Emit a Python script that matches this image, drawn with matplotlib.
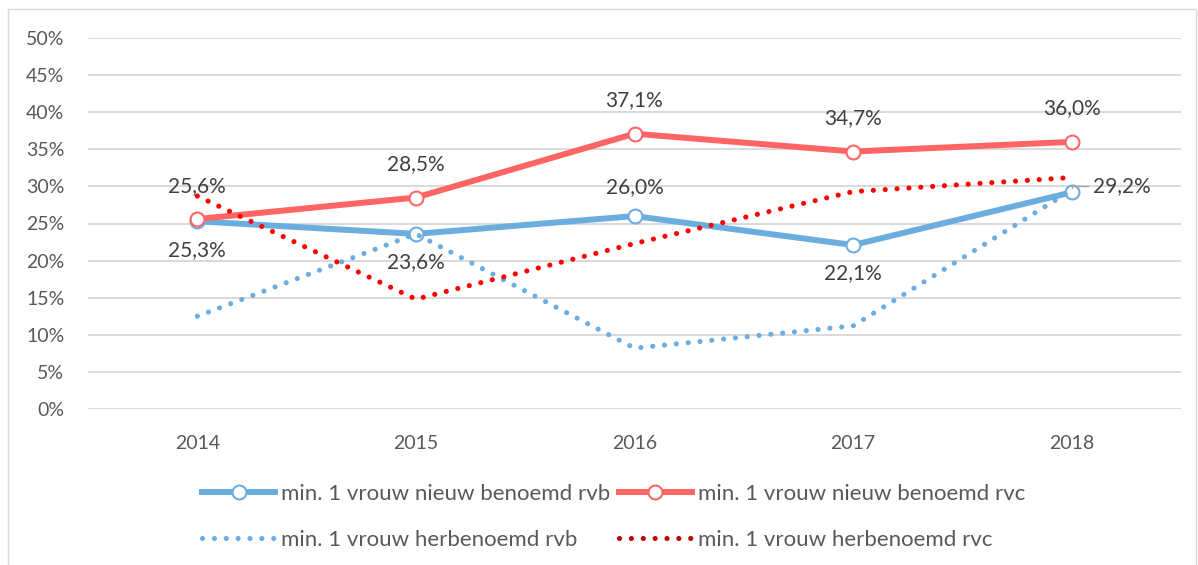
import matplotlib.pyplot as plt
from matplotlib.lines import Line2D
from matplotlib.patches import Rectangle

plt.rcParams['font.family'] = ['Lato', 'DejaVu Sans']

# data
jaren = ['2014', '2015', '2016', '2017', '2018']
nieuw_rvb = [25.3, 23.6, 26.0, 22.1, 29.2]
nieuw_rvc = [25.6, 28.5, 37.1, 34.7, 36.0]
herb_rvb = [12.5, 23.6, 8.2, 11.2, 29.5]
herb_rvc = [28.7, 14.8, 22.3, 29.3, 31.2]
labels = ['min. 1 vrouw nieuw benoemd rvb', 'min. 1 vrouw nieuw benoemd rvc',
          'min. 1 vrouw herbenoemd rvb', 'min. 1 vrouw herbenoemd rvc']

blauw = '#6CADDF'
rood = '#FF6565'
rood_dot = '#FF0000'
grijs = '#595959'

fig = plt.figure(figsize=(11.98, 5.65), dpi=100)
ax = fig.add_axes([88/1198, 1-409/565, (1181-88)/1198, (409-38)/565])

x = range(len(jaren))
ax.plot(x, nieuw_rvb, color=blauw, lw=4.3, marker='o', ms=10, mfc='white',
        mec=blauw, mew=1.5, zorder=3)
ax.plot(x, nieuw_rvc, color=rood, lw=4.3, marker='o', ms=10, mfc='white',
        mec=rood, mew=1.5, zorder=3)
ax.plot(x, herb_rvb, color=blauw, lw=3.7, linestyle=(0, (0.01, 2.3)),
        dash_capstyle='round', zorder=4)
ax.plot(x, herb_rvc, color=rood_dot, lw=3.7, linestyle=(0, (0.01, 2.3)),
        dash_capstyle='round', zorder=4)

# data labels
lbl_kleur = '#404040'
for i, v in enumerate(nieuw_rvc):
    ax.annotate(f'{v:.1f}%'.replace('.', ','), (i, v), xytext=(0, 24),
                textcoords='offset points', ha='center', va='center',
                fontsize=15, color=lbl_kleur, zorder=5)
pos = ['onder', 'onder', 'boven', 'onder', 'rechts']
for i, v in enumerate(nieuw_rvb):
    tekst = f'{v:.1f}%'.replace('.', ',')
    if pos[i] == 'boven':
        ax.annotate(tekst, (i, v), xytext=(0, 21), textcoords='offset points',
                    ha='center', va='center', fontsize=15, color=lbl_kleur)
    elif pos[i] == 'onder':
        ax.annotate(tekst, (i, v), xytext=(0, -20.5), textcoords='offset points',
                    ha='center', va='center', fontsize=15, color=lbl_kleur)
    else:
        ax.annotate(tekst, (i, v), xytext=(15, 4.5), textcoords='offset points',
                    ha='left', va='center', fontsize=15, color=lbl_kleur,
                    arrowprops=dict(arrowstyle='-', color='#A6A6A6', lw=1,
                                    shrinkA=1, shrinkB=3,
                                    connectionstyle='angle,angleA=0,angleB=90,rad=0'))

ax.set_xlim(-0.5, 4.5)
ax.set_ylim(0, 50)
ax.set_yticks(range(0, 51, 5))
ax.set_yticklabels([f'{t}%' for t in range(0, 51, 5)])
ax.set_xticks(list(x))
ax.set_xticklabels(jaren)
ax.tick_params(axis='y', length=0, pad=17, labelsize=14, labelcolor=grijs)
ax.tick_params(axis='x', length=0, pad=19, labelsize=14, labelcolor=grijs)
ax.grid(axis='y', color='#D9D9D9', lw=1.4)
ax.set_axisbelow(True)
for s in ax.spines.values():
    s.set_visible(False)

# legend
handles = [
    Line2D([], [], color=blauw, lw=4.3, marker='o', ms=10, mfc='white', mec=blauw, mew=1.5),
    Line2D([], [], color=blauw, lw=3.7, linestyle=(0, (0.01, 2.3)), dash_capstyle='round'),
    Line2D([], [], color=rood, lw=4.3, marker='o', ms=10, mfc='white', mec=rood, mew=1.5),
    Line2D([], [], color='#C00000', lw=3.7, linestyle=(0, (0.01, 2.3)), dash_capstyle='round'),
]
leg_labels = [labels[0], labels[2], labels[1], labels[3]]
fig.legend(handles, leg_labels, ncol=2, loc='upper left',
           bbox_to_anchor=(202/1198, 1-484/565), frameon=False,
           fontsize=16, labelcolor=grijs, handlelength=3.3, handletextpad=0.27,
           columnspacing=0.36, labelspacing=1.16, borderpad=0, borderaxespad=0)

# chart border
fig.patches.append(Rectangle((8/1198, -0.05), (1196-8)/1198, 1.05-9/565,
                             transform=fig.transFigure, fill=False,
                             edgecolor='#D9D9D9', lw=1))

plt.savefig('out.png', dpi=100)
